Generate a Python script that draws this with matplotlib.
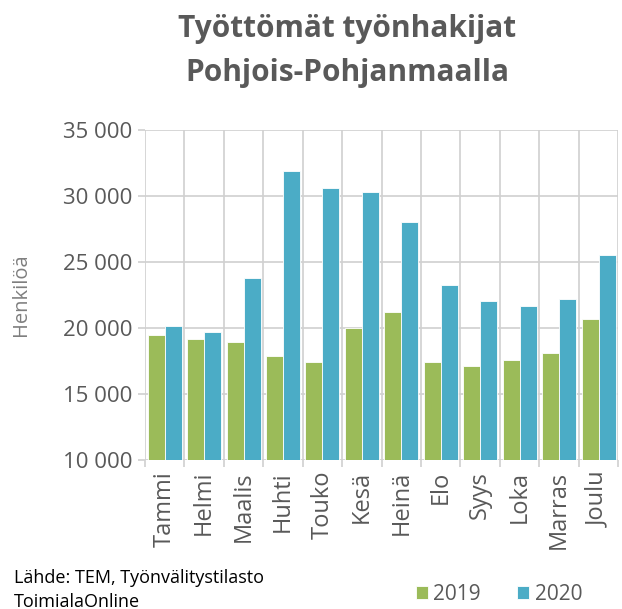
import numpy as np
import matplotlib.pyplot as plt
from matplotlib.ticker import FuncFormatter, FixedLocator

# Data
months = ['Tammi', 'Helmi', 'Maalis', 'Huhti', 'Touko', 'Kesä',
          'Heinä', 'Elo', 'Syys', 'Loka', 'Marras', 'Joulu']
values_2019 = [19470, 19140, 18940, 17850, 17420, 19970,
               21190, 17420, 17090, 17550, 18080, 20660]
values_2020 = [20100, 19670, 23740, 31870, 30580, 30280,
               28030, 23230, 22020, 21620, 22150, 25480]
series_labels = ['2019', '2020']

green = '#9BBB59'
blue = '#4BACC6'
grey_text = '#595959'

plt.rcParams['font.family'] = ['Open Sans', 'DejaVu Sans']

fig = plt.figure(figsize=(6.22, 6.09), dpi=100)
ax = fig.add_axes([0.233, 0.245, 0.761, 0.542])

x = np.arange(len(months))
w = 0.43
ax.bar(x - w / 2, values_2019, width=w, color=green, edgecolor='white',
       linewidth=0.6, label=series_labels[0], zorder=3)
ax.bar(x + w / 2, values_2020, width=w, color=blue, edgecolor='white',
       linewidth=0.6, label=series_labels[1], zorder=3)

ax.set_xlim(-0.5, len(months) - 0.5)
ax.set_ylim(10000, 35000)
ax.set_yticks(np.arange(10000, 35001, 5000))
ax.yaxis.set_major_formatter(FuncFormatter(lambda v, p: f'{int(v):,}'.replace(',', ' ')))

# category boundaries as vertical gridlines
ax.xaxis.set_major_locator(FixedLocator(x))
ax.xaxis.set_minor_locator(FixedLocator(np.arange(-0.5, len(months), 1.0)))
ax.set_xticklabels(months, rotation=90)
ax.grid(which='minor', axis='x', color='#D0D0D0', linewidth=1.2, zorder=0)
ax.grid(which='major', axis='y', color='#D0D0D0', linewidth=1.2, zorder=0)
ax.tick_params(axis='x', which='major', length=0, pad=8, labelsize=17, colors=grey_text)
ax.tick_params(axis='x', which='minor', length=5, color='#D0D0D0', width=1.2)
ax.tick_params(axis='y', length=5, color='#D0D0D0', width=1.2, labelsize=16,
               colors=grey_text, pad=4)
for s in ax.spines.values():
    s.set_visible(False)

ax.set_ylabel('Henkilöä', color='#7F7F7F', fontsize=14.5)
ax.yaxis.set_label_coords(-0.241, 0.5)

# title, two lines
fig.text(0.558, 0.939, 'Työttömät työnhakijat', ha='center', va='baseline',
         fontsize=21.5, fontweight='bold', color=grey_text)
fig.text(0.558, 0.867, 'Pohjois-Pohjanmaalla', ha='center', va='baseline',
         fontsize=21.5, fontweight='bold', color=grey_text)

# source
fig.text(0.022, 0.0427, 'Lähde: TEM, Työnvälitystilasto', ha='left', va='baseline',
         fontsize=13, color='black')
fig.text(0.022, 0.0033, 'ToimialaOnline', ha='left', va='baseline',
         fontsize=13, color='black')

ax.legend(loc='center', bbox_to_anchor=(0.748, -0.409), ncol=2, frameon=False,
          fontsize=15, handlelength=0.58, handleheight=0.58, columnspacing=1.75,
          handletextpad=0.25, labelcolor=grey_text, borderpad=0)

fig.savefig('out.png', dpi=100)
